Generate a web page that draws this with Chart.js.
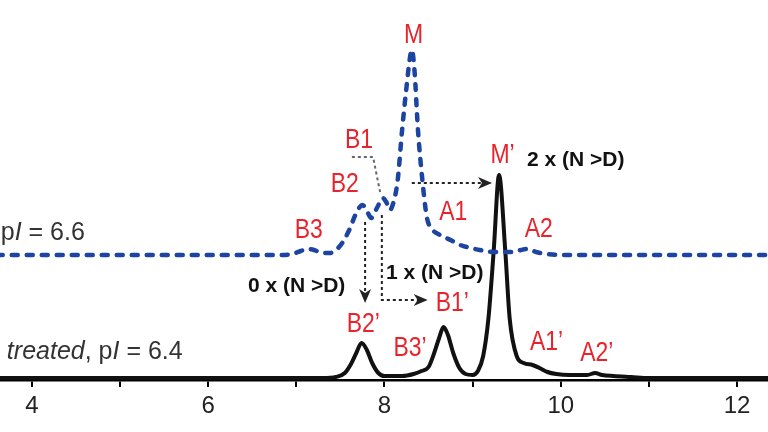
<!DOCTYPE html>
<html>
<head>
<meta charset="utf-8">
<script src="https://cdn.jsdelivr.net/npm/chart.js@4"></script>
<style>
  html, body { margin: 0; padding: 0; background: #fff; }
  canvas { display: block; }
</style>
</head>
<body>
<canvas id="chart" width="768" height="432"></canvas>
<script>
'use strict';

// pI axis
const xTicks = [4, 5, 6, 7, 8, 9, 10, 11, 12];
const xTickLabels = [4, 6, 8, 10, 12];

// upper trace (dashed blue), height above its own baseline
const blueX = [3.6, 6.8, 6.95, 7.05, 7.12, 7.2, 7.3, 7.38, 7.45, 7.52, 7.6, 7.68, 7.75, 7.8, 7.85, 7.92, 7.98, 8.02, 8.06, 8.1, 8.15, 8.2, 8.25, 8.29, 8.31, 8.34, 8.38, 8.43, 8.48, 8.53, 8.63, 8.75, 8.86, 8.98, 9.08, 9.24, 9.45, 9.55, 9.62, 9.72, 9.85, 10.0, 12.4];
const blueY = [0, 0, 1, 4, 6, 5, 2, 2, 5, 12, 25, 42, 50, 44, 37, 48, 57, 53, 45, 52, 75, 125, 168, 198, 205, 185, 125, 75, 38, 27, 20, 15, 10, 7, 5, 3, 3, 5, 6, 3, 1, 0, 0];
const blueOffset = 125;

// lower trace (solid black)
const blackX = [3.6, 7.3, 7.45, 7.55, 7.62, 7.68, 7.74, 7.8, 7.86, 7.93, 8.0, 8.2, 8.33, 8.42, 8.5, 8.56, 8.62, 8.67, 8.72, 8.78, 8.85, 8.92, 9.0, 9.06, 9.12, 9.18, 9.24, 9.3, 9.37, 9.42, 9.5, 9.58, 9.68, 9.76, 9.85, 9.95, 10.1, 10.3, 10.39, 10.47, 10.6, 10.8, 11.0, 12.4];
const blackY = [2, 2, 3, 7, 16, 27, 37, 30, 17, 7, 4, 4, 6, 9, 13, 26, 42, 53, 45, 27, 12, 6, 5, 9, 24, 62, 130, 205, 130, 62, 24, 17, 15, 12, 8, 6, 5, 5, 7, 5, 4, 3, 2, 2];

// peak labels
const peakNames = ['M', 'B1', 'B2', 'B3', 'A1', 'A2', 'M\u2019', 'B1\u2019', 'B2\u2019', 'B3\u2019', 'A1\u2019', 'A2\u2019'];
const peakLabelX = [8.33, 7.71, 7.55, 7.14, 8.78, 9.75, 9.34, 8.77, 7.76, 8.29, 9.84, 10.41];
const peakLabelY = [345, 240, 196, 150, 168, 151, 225, 77, 56, 32, 38, 27];

// deamidation notes
const noteTexts = ['2 x (N >D)', '1 x (N >D)', '0 x (N >D)'];
const noteX = [9.617, 8.017, 6.45];
const noteY = [220, 107, 94];

const RED = '#e8232b';
const FONT = '"Liberation Sans", Arial, sans-serif';

const pts = (xs, ys, off) => xs.map((x, i) => ({ x, y: ys[i] + off }));

function drawLabel(ctx, text, px, py, font, color, align, sx) {
  ctx.save();
  ctx.translate(px, py);
  ctx.scale(sx, 1);
  ctx.font = font;
  ctx.fillStyle = color;
  ctx.textAlign = align;
  ctx.textBaseline = 'middle';
  ctx.fillText(text, 0, 0);
  ctx.restore();
}

// runs of [text, italic], right aligned at px
function drawRuns(ctx, runs, px, py, size) {
  ctx.save();
  ctx.textBaseline = 'middle';
  ctx.fillStyle = '#333';
  let total = 0;
  runs.forEach(([t, it]) => {
    ctx.font = `${it ? 'italic ' : ''}${size}px ${FONT}`;
    total += ctx.measureText(t).width;
  });
  let x = px - total;
  runs.forEach(([t, it]) => {
    ctx.font = `${it ? 'italic ' : ''}${size}px ${FONT}`;
    ctx.fillText(t, x, py);
    x += ctx.measureText(t).width;
  });
  ctx.restore();
}

function dotted(ctx, path, color) {
  ctx.save();
  ctx.strokeStyle = color;
  ctx.lineWidth = 2;
  ctx.setLineDash([3, 3]);
  ctx.beginPath();
  path.forEach(([x, y], i) => (i ? ctx.lineTo(x, y) : ctx.moveTo(x, y)));
  ctx.stroke();
  ctx.restore();
}

function head(ctx, x, y, dir) {
  // dir: 'right' or 'down', tip at x,y
  ctx.save();
  ctx.fillStyle = '#222';
  ctx.beginPath();
  if (dir === 'right') {
    ctx.moveTo(x, y);
    ctx.lineTo(x - 14, y - 6);
    ctx.lineTo(x - 10, y);
    ctx.lineTo(x - 14, y + 6);
  } else {
    ctx.moveTo(x, y);
    ctx.lineTo(x - 6, y - 14);
    ctx.lineTo(x, y - 10);
    ctx.lineTo(x + 6, y - 14);
  }
  ctx.closePath();
  ctx.fill();
  ctx.restore();
}

const annotations = {
  id: 'annotations',
  afterDraw(chart) {
    const { ctx } = chart;
    const xs = chart.scales.x;
    const ys = chart.scales.y;
    const X = v => xs.getPixelForValue(v);
    const Y = v => ys.getPixelForValue(v);

    // arrows
    dotted(ctx, [[X(8.31), Y(197)], [X(9.2), Y(197)]], '#222');
    head(ctx, X(9.22), Y(197), 'right');
    dotted(ctx, [[X(7.78), Y(158)], [X(7.78), Y(86)]], '#222');
    head(ctx, X(7.78), Y(77), 'down');
    dotted(ctx, [[X(7.97), Y(165)], [X(7.97), Y(80)], [X(8.45), Y(80)]], '#222');
    head(ctx, X(8.49), Y(80), 'right');
    dotted(ctx, [[X(7.63), Y(223)], [X(7.87), Y(223)], [X(7.95), Y(188)]], '#666');

    peakNames.forEach((t, i) => {
      drawLabel(ctx, t, X(peakLabelX[i]), Y(peakLabelY[i]), `28px ${FONT}`, RED, 'center', 0.82);
    });
    noteTexts.forEach((t, i) => {
      drawLabel(ctx, t, X(noteX[i]), Y(noteY[i]), `bold 21px ${FONT}`, '#111', 'left', 1);
    });

    drawRuns(ctx, [['p', false], ['I', true], [' = 6.6', false]], X(4.6), Y(147), 25);
    drawRuns(ctx, [['treated', true], [', p', false], ['I', true], [' = 6.4', false]], X(5.71), Y(28), 25);
  }
};

new Chart(document.getElementById('chart'), {
  type: 'line',
  data: {
    datasets: [
      {
        label: 'pI 6.6',
        data: pts(blueX, blueY, blueOffset),
        borderColor: '#1c44a0',
        borderWidth: 4.5,
        borderDash: [6, 9],
        borderCapStyle: 'round',
        pointRadius: 0,
        cubicInterpolationMode: 'monotone',
        fill: false,
      },
      {
        label: 'pI 6.4',
        data: pts(blackX, blackY, 0),
        borderColor: '#111',
        borderWidth: 4,
        pointRadius: 0,
        cubicInterpolationMode: 'monotone',
        fill: false,
      },
    ],
  },
  options: {
    responsive: false,
    animation: false,
    layout: { padding: 0 },
    plugins: { legend: { display: false }, tooltip: { enabled: false } },
    scales: {
      x: {
        type: 'linear',
        min: 3.637,
        max: 12.352,
        afterBuildTicks: scale => { scale.ticks = xTicks.map(value => ({ value })); },
        afterFit: scale => { scale.height = 52; },
        ticks: {
          autoSkip: false,
          maxRotation: 0,
          padding: 5,
          color: '#222',
          font: { family: FONT, size: 24 },
          callback: v => (xTickLabels.includes(v) ? String(v) : ''),
        },
        grid: { drawOnChartArea: false, drawTicks: true, tickLength: 7, color: '#000', lineWidth: 2 },
        border: { display: true, color: '#000', width: 2.5 },
      },
      y: {
        display: false,
        min: 0,
        max: 380,
      },
    },
  },
  plugins: [annotations],
});
</script>
</body>
</html>
